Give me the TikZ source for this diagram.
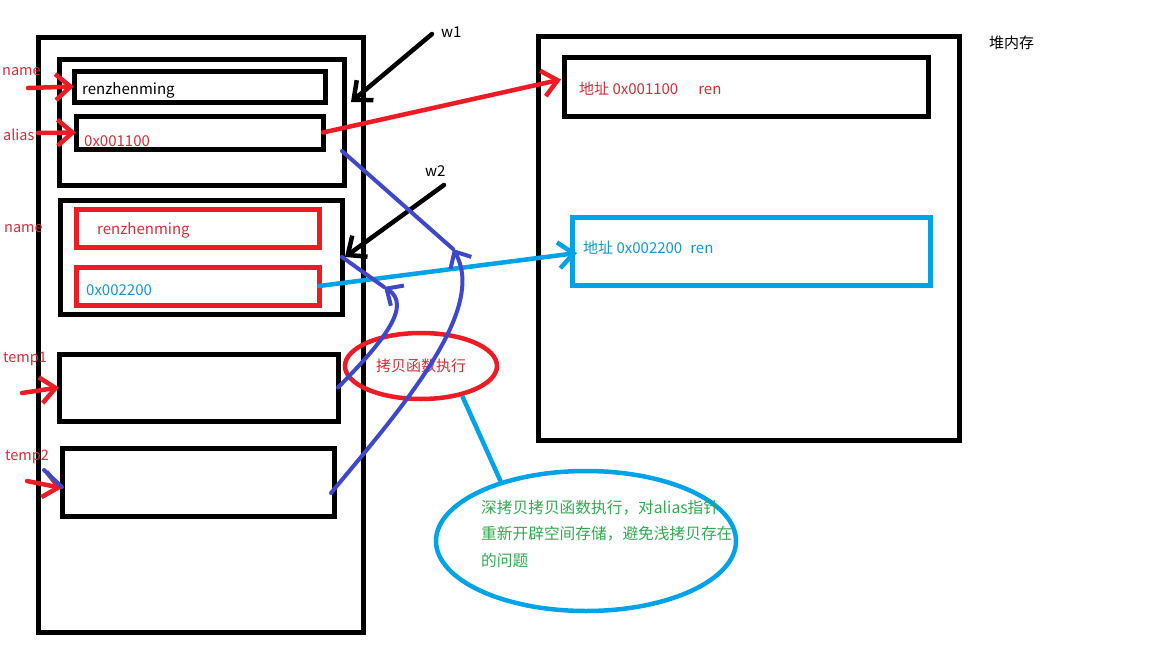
\documentclass[tikz,border=0pt]{standalone}
\usepackage{fontspec}
\setmainfont{Noto Sans CJK SC}
\usetikzlibrary{arrows.meta,shapes.geometric}
\definecolor{pred}{RGB}{237,28,36}
\definecolor{tred}{RGB}{215,45,55}
\definecolor{pblue}{RGB}{63,72,204}
\definecolor{pcyan}{RGB}{0,162,232}
\definecolor{tcyan}{RGB}{20,150,210}
\definecolor{pgreen}{RGB}{50,170,80}
\begin{document}
\begin{tikzpicture}[x=1pt,y=-1pt,
  frame/.style={draw=black,line width=5pt,inner sep=0pt,outer sep=0pt,anchor=north west},
  lbl/.style={anchor=west,inner sep=0pt,font=\fontsize{14.5}{16}\selectfont,text=tred},
  ftext/.style={anchor=west,inner sep=0pt,font=\fontsize{15}{17}\selectfont},
  barb/.style={-{Straight Barb[length=15pt,width=26pt]},line width=4.5pt,line cap=round,line join=round},
  redarr/.style={barb,draw=pred},
  bluearr/.style={-{Straight Barb[length=13pt,width=24pt]},line width=4pt,line cap=round,draw=pblue},
  blueline/.style={line width=4pt,draw=pblue,line cap=round},
]
\useasboundingbox[fill=white] (0,0) rectangle (1152,648);

% stack frame
\node[frame,minimum width=325pt,minimum height=595pt] (stack) at (38,37) {};
\node[frame,minimum width=285pt,minimum height=126pt] (boxA) at (59,59) {};
\node[frame,minimum width=251pt,minimum height=31pt] (fname) at (74,71) {};
\node[frame,minimum width=247pt,minimum height=33pt] (falias) at (76,116) {};
\node[frame,minimum width=282pt,minimum height=114pt] (boxB) at (60,200) {};
\node[frame,draw=pred,minimum width=243pt,minimum height=38pt] (fname2) at (76,209) {};
\node[frame,draw=pred,minimum width=243pt,minimum height=38pt] (faddr2) at (76,267) {};
\node[frame,minimum width=279pt,minimum height=67pt] (temp1) at (59,354) {};
\node[frame,minimum width=272pt,minimum height=68pt] (temp2) at (62,448) {};

% heap
\node[frame,minimum width=421pt,minimum height=404pt] (heap) at (538,36) {};
\node[frame,minimum width=364pt,minimum height=59pt] (h1) at (564,57) {};
\node[frame,draw=pcyan,minimum width=358pt,minimum height=68pt] (h2) at (572,217) {};

% field texts
\node[ftext] (t1) at (82,90) {renzhenming};
\node[ftext,text=tred] (t2) at (84,141) {0x001100};
\node[ftext,text=tred] (t3) at (97,230) {renzhenming};
\node[ftext,text=tcyan] (t4) at (86,290) {0x002200};
\node[ftext,text=tred] (t5) at (579,89) {地址 0x001100\hspace{20pt}ren};
\node[ftext,text=tcyan] (t6) at (583,248) {地址 0x002200\hspace{8pt}ren};
\node[anchor=west,inner sep=0pt,font=\fontsize{15}{17}\selectfont] (heaplbl) at (989,43) {堆内存};

% left labels
\node[lbl] (lname) at (2,72) {name};
\node[lbl] (lalias) at (3,135) {alias};
\node[lbl] (lname2) at (4,229) {name};
\node[lbl] (ltemp1) at (3,359) {temp1};
\node[lbl] (ltemp2) at (5,457) {temp2};

% label arrows
\coordinate (a1) at (28,88);
\coordinate (a2) at (38,133);
\coordinate (a3) at (22,393);
\coordinate (a4) at (27,481);
\draw[redarr] (a1) -- (fname.west);
\draw[redarr] (a2) -- (falias.west);
\draw[redarr] (a3) -- (temp1.west);
\draw[redarr] (a4) -- ([yshift=-6pt]temp2.west);
\coordinate (b0) at (44,470);
\draw[blueline] (b0) -- ([yshift=-5pt]temp2.west);

% w1, w2
\node[anchor=west,inner sep=0pt,font=\fontsize{15}{17}\selectfont] (w1) at (441,32) {w1};
\node[anchor=west,inner sep=0pt,font=\fontsize{15}{17}\selectfont] (w2) at (425,171) {w2};
\coordinate (w1s) at (432,34);
\coordinate (w2s) at (444,185);
\draw[barb,draw=black] (w1s) -- ([shift={(7pt,20pt)}]boxA.east);
\draw[barb,draw=black] (w2s) -- ([xshift=3pt]boxB.east);

% pointers to heap
\draw[redarr] (falias.east) -- ([shift={(-3pt,7pt)}]h1.west);
\draw[barb,draw=pcyan] (faddr2.east) -- ([shift={(5pt,-2pt)}]h2.west);

% ellipses
\node[draw=pred,line width=4.5pt,ellipse,minimum width=152pt,minimum height=66pt,inner sep=0pt,
      font=\fontsize{15}{17}\selectfont,text=tred] (rell) at (421,366) {拷贝函数执行};
\node[draw=pcyan,line width=4.5pt,ellipse,minimum width=300pt,minimum height=140pt,inner sep=0pt] (cell) at (586,541) {};
\node[anchor=north west,inner sep=0pt,align=left,text=pgreen,
      font=\fontsize{15.7}{26.5}\selectfont] (ctext) at (481,500)
  {深拷贝拷贝函数执行，对alias指针\\重新开辟空间存储，避免浅拷贝存在\\的问题};
\draw[line width=4.5pt,draw=pcyan] (rell.-36) -- (cell.145);

% blue copy curves
\coordinate (tip1) at (453,249);
\coordinate (tip2) at (384,287);
\draw[blueline] ([shift={(-2pt,-29pt)}]boxA.east) -- (tip1);
\draw[bluearr] ([shift={(-3pt,-11pt)}]temp2.east) .. controls (400,410) and (488,310) .. (tip1);
\draw[blueline] (boxB.east) -- (tip2);
\draw[bluearr] (temp1.east) .. controls (385,340) and (412,305) .. (tip2);
\end{tikzpicture}
\end{document}
